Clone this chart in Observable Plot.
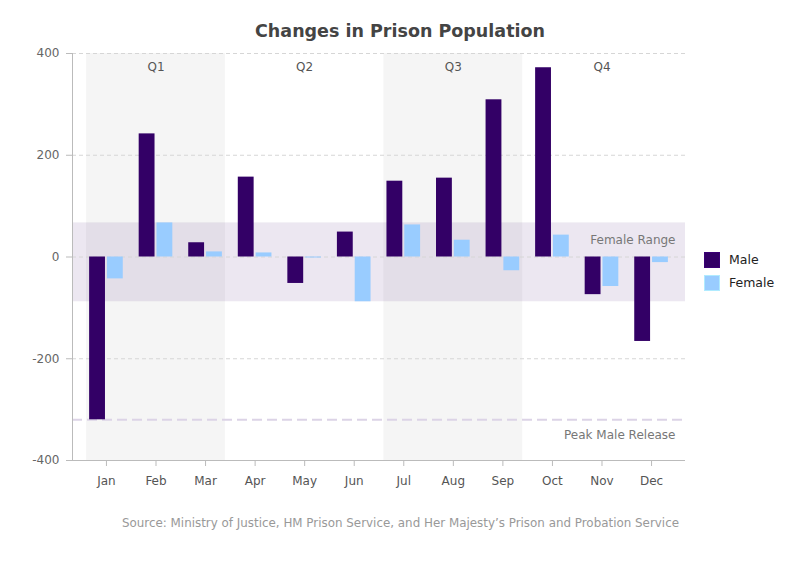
<!DOCTYPE html>
<html>
<head>
<meta charset="utf-8">
<script src="https://cdn.jsdelivr.net/npm/d3@7"></script>
<script src="https://cdn.jsdelivr.net/npm/@observablehq/plot@0.6"></script>
<style>
  html, body { margin: 0; padding: 0; background: #fff; }
  body { width: 800px; height: 570px; position: relative; overflow: hidden; font-family: "DejaVu Sans", Verdana, sans-serif; }
  #title { position: absolute; left: 0; width: 800px; top: 21px; text-align: center; font-weight: bold; font-size: 17.5px; color: #444; }
  #chart { position: absolute; left: 0; top: 0; }
  #legend { position: absolute; left: 704px; top: 248px; font-size: 12.5px; color: #222; }
  .item { display: flex; align-items: center; height: 23px; }
  .sw { width: 14px; height: 14px; margin-right: 9px; box-sizing: content-box; }
  #source { position: absolute; right: 121px; top: 516px; font-size: 11.9px; color: #999; }
</style>
</head>
<body>
<div id="chart"></div>
<div id="title">Changes in Prison Population</div>
<div id="legend"></div>
<div id="source">Source: Ministry of Justice, HM Prison Service, and Her Majesty’s Prison and Probation Service</div>
<script>
const months = ["Jan","Feb","Mar","Apr","May","Jun","Jul","Aug","Sep","Oct","Nov","Dec"];
const male   = [-320, 242, 28, 157, -52, 49, 149, 155, 309, 372, -74, -166];
const female = [-43, 67, 10, 8, -2, -88, 63, 33, -27, 43, -58, -11];
const quarters = ["Q1","Q2","Q3","Q4"];
const shadedQuarters = ["Q1","Q3"];
const yTicks = [-400, -200, 0, 200, 400];
const seriesNames = ["Male","Female"];
const seriesColors = ["#330066","#99ccff"];

const quarterOf = (i) => quarters[Math.floor(i / 3)];
const shadedFirst = months.filter((m, i) => shadedQuarters.includes(quarterOf(i)) && i % 3 === 0);
const shadedMid   = months.filter((m, i) => shadedQuarters.includes(quarterOf(i)) && i % 3 === 1);
const shadedLast  = months.filter((m, i) => shadedQuarters.includes(quarterOf(i)) && i % 3 === 2);
const quarterCenters = quarters.map((q, k) => ({q, m: months[k * 3 + 1]}));

const femaleMin = d3.min(female), femaleMax = d3.max(female);
const peakMale = d3.min(male);

const shade = {y1: -400, y2: 400, fill: "#f5f5f5"};

const chart = Plot.plot({
  width: 800,
  height: 570,
  marginLeft: 72,
  marginRight: 115,
  marginTop: 53,
  marginBottom: 110,
  style: {fontFamily: "'DejaVu Sans', Verdana, sans-serif", fontSize: "12px", background: "transparent"},
  x: {type: "band", domain: months, paddingInner: 0.2, paddingOuter: 0.285, round: false, label: null},
  y: {domain: [-400, 400], label: null},
  marks: [
    Plot.barY(shadedFirst, {x: d => d, ...shade, insetLeft: 0, insetRight: -5.2}),
    Plot.barY(shadedMid,   {x: d => d, ...shade, insetLeft: -5.2, insetRight: -5.2}),
    Plot.barY(shadedLast,  {x: d => d, ...shade, insetLeft: -5.2, insetRight: 0}),
    Plot.rectY([{a: femaleMin, b: femaleMax}], {y1: "a", y2: "b", fill: "#330066", fillOpacity: 0.095}),
    Plot.gridY(yTicks, {stroke: "#d6d6d6", strokeOpacity: 1, strokeDasharray: "4,3"}),
    Plot.ruleY([peakMale], {stroke: "#dcd3e6", strokeWidth: 2, strokeDasharray: "10,5"}),
    Plot.barY(months, {x: d => d, y: (d, i) => male[i], fill: seriesColors[0], insetLeft: 3, insetRight: 20.8}),
    Plot.barY(months, {x: d => d, y: (d, i) => female[i], fill: seriesColors[1], insetLeft: 20.8, insetRight: 3}),
    Plot.text(quarterCenters, {x: "m", y: 400, text: "q", dy: 14, fill: "#555", fontSize: 12}),
    Plot.text(["Female Range"], {y: femaleMax, text: d => d, frameAnchor: "right", textAnchor: "end", dx: -10, dy: 17, fill: "#777", fontSize: 12}),
    Plot.text(["Peak Male Release"], {y: peakMale, text: d => d, frameAnchor: "right", textAnchor: "end", dx: -10, dy: 15, fill: "#777", fontSize: 12}),
    Plot.axisY({ticks: yTicks, tickFormat: d => String(d), tickSize: 6, tickPadding: 7, stroke: "#bbb", fill: "#666", fontSize: 12, label: null}),
    Plot.frame({anchor: "left", stroke: "#bbb"}),
    Plot.ruleY([-400], {stroke: "#bbb"}),
    Plot.axisX({tickSize: 6, tickPadding: 10, stroke: "#bbb", fill: "#555", fontSize: 12, label: null})
  ]
});
document.getElementById("chart").appendChild(chart);

const legend = document.getElementById("legend");
seriesNames.forEach((name, i) => {
  const item = document.createElement("div");
  item.className = "item";
  const sw = document.createElement("div");
  sw.className = "sw";
  sw.style.background = seriesColors[i];
  sw.style.border = "1px solid " + d3.color(seriesColors[i]).brighter(0.4).formatHex();
  const label = document.createElement("span");
  label.textContent = name;
  item.appendChild(sw);
  item.appendChild(label);
  legend.appendChild(item);
});
</script>
</body>
</html>
